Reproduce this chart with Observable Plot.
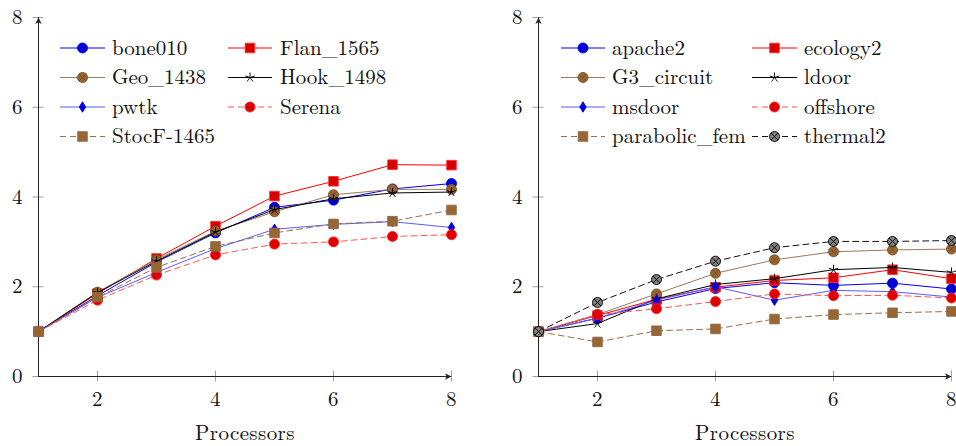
<!DOCTYPE html>
<html>
<head>
<meta charset="utf-8">
<script src="https://cdn.jsdelivr.net/npm/d3@7"></script>
<script src="https://cdn.jsdelivr.net/npm/@observablehq/plot@0.6"></script>
<style>
  html, body { margin: 0; padding: 0; background: #fff; }
  #wrap { position: relative; width: 956px; height: 446px; overflow: hidden; }
  .panel { position: absolute; top: 0; width: 478px; height: 446px; }
  .panel svg { overflow: visible; }
  .panel text { letter-spacing: 0.4px; }
  .panel svg.legend text { letter-spacing: 0px; }
  .legend { position: absolute; top: 0; left: 0; pointer-events: none; }
</style>
</head>
<body>
<div id="wrap">
  <div class="panel" id="left" style="left:0px"></div>
  <div class="panel" id="right" style="left:478px"></div>
</div>
<script>
// ---------- data ----------
const procs = [1, 2, 3, 4, 5, 6, 7, 8];
const xTicks = [2, 4, 6, 8];
const yTicks = [0, 2, 4, 6, 8];
const xDomain = [1, 8];
const yDomain = [0, 8];
const axisLabel = "Processors";

const leftNames = ["bone010", "Flan_1565", "Geo_1438", "Hook_1498", "pwtk", "Serena", "StocF-1465"];
const bone010   = [1, 1.80, 2.55, 3.20, 3.77, 3.93, 4.18, 4.30];
const flan1565  = [1, 1.85, 2.63, 3.35, 4.02, 4.35, 4.72, 4.71];
const geo1438   = [1, 1.88, 2.60, 3.24, 3.67, 4.05, 4.17, 4.17];
const hook1498  = [1, 1.87, 2.57, 3.22, 3.72, 3.96, 4.09, 4.11];
const pwtk      = [1, 1.76, 2.32, 2.85, 3.28, 3.39, 3.45, 3.32];
const serena    = [1, 1.70, 2.26, 2.71, 2.95, 3.00, 3.12, 3.16];
const stocf1465 = [1, 1.77, 2.43, 2.90, 3.20, 3.40, 3.46, 3.71];

const rightNames = ["apache2", "ecology2", "G3_circuit", "ldoor", "msdoor", "offshore", "parabolic_fem", "thermal2"];
const apache2    = [1, 1.30, 1.66, 1.96, 2.09, 2.03, 2.08, 1.95];
const ecology2   = [1, 1.36, 1.72, 1.99, 2.14, 2.20, 2.38, 2.18];
const g3circuit  = [1, 1.38, 1.84, 2.30, 2.60, 2.78, 2.82, 2.84];
const ldoor      = [1, 1.18, 1.73, 2.05, 2.18, 2.38, 2.43, 2.32];
const msdoor     = [1, 1.30, 1.70, 2.00, 1.70, 1.92, 1.89, 1.77];
const offshore   = [1, 1.38, 1.51, 1.67, 1.84, 1.80, 1.81, 1.75];
const parabolic  = [1, 0.77, 1.02, 1.06, 1.28, 1.38, 1.42, 1.45];
const thermal2   = [1, 1.65, 2.16, 2.57, 2.87, 3.01, 3.01, 3.03];

const leftSeries = [bone010, flan1565, geo1438, hook1498, pwtk, serena, stocf1465];
const rightSeries = [apache2, ecology2, g3circuit, ldoor, msdoor, offshore, parabolic, thermal2];

// ---------- symbols ----------
const rad = s => Math.sqrt(s / Math.PI);
const SYM = {
  circle: {draw(c, s) { const r = rad(s); c.moveTo(r, 0); c.arc(0, 0, r, 0, 2 * Math.PI); c.closePath(); }},
  square: {draw(c, s) { const r = rad(s) * 0.92; c.rect(-r, -r, 2 * r, 2 * r); }},
  otimes: {draw(c, s) {
    const r = rad(s), a = r * 0.707;
    c.moveTo(r, 0); c.arc(0, 0, r, 0, 2 * Math.PI); c.closePath();
    c.moveTo(-a, -a); c.lineTo(a, a); c.moveTo(-a, a); c.lineTo(a, -a);
  }},
  star: {draw(c, s) {
    const r = rad(s);
    for (let k = 0; k < 5; k++) {
      const t = (-90 + 72 * k) * Math.PI / 180;
      c.moveTo(0, 0); c.lineTo(r * Math.cos(t), r * Math.sin(t));
    }
  }},
  diamond: {draw(c, s) { const r = rad(s); c.moveTo(0, -r); c.lineTo(0.62 * r, 0); c.lineTo(0, r); c.lineTo(-0.62 * r, 0); c.closePath(); }},
  arrow: {draw(c) { c.moveTo(0, 0); c.lineTo(3.2, 6.5); c.lineTo(0, 4.8); c.lineTo(-3.2, 6.5); c.closePath(); }}
};

// pgfplots "color" cycle list
const DASH = "6,4";
const cycle = [
  {line: "#0000ff", fill: "#0000d4", mstroke: "#0000ff", sym: "circle", r: 5},
  {line: "#ff0000", fill: "#d40000", mstroke: "#ff3030", sym: "square", r: 5.2},
  {line: "#9a7a5a", fill: "#996633", mstroke: "#734d26", sym: "otimes", r: 5},
  {line: "#000000", fill: "none", mstroke: "#000000", sym: "star", r: 5},
  {line: "#5c5cff", fill: "#0000d4", mstroke: "#0000ff", sym: "diamond", r: 5.2},
  {line: "#ff5555", fill: "#dd0000", mstroke: "#ff2020", sym: "circle", r: 5, dash: DASH},
  {line: "#98704c", fill: "#996633", mstroke: "#8a6a4a", sym: "square", r: 5.2, dash: DASH},
  {line: "#111111", fill: "#808080", mstroke: "#000000", sym: "otimes", r: 5, dash: DASH}
];

const FONT = "'Latin Modern Roman', 'CMU Serif', 'Liberation Serif', serif";
const FS = 21;

function panel(series, marginLeft, marginRight) {
  const tkY = 0.12, tkX = 0.093;
  const marks = [
    Plot.ruleY(yTicks, {y: d => d, x1: () => xDomain[0] - tkX, x2: () => xDomain[0] + tkX, stroke: "#a0a0a0", strokeWidth: 1}),
    Plot.ruleX(xTicks, {x: d => d, y1: () => yDomain[0] - tkY, y2: () => yDomain[0] + tkY, stroke: "#a0a0a0", strokeWidth: 1}),
    Plot.ruleX([xDomain[0]], {x: d => d, y1: () => yDomain[0], y2: () => yDomain[1], stroke: "#222", strokeWidth: 1}),
    Plot.ruleY([yDomain[0]], {y: d => d, x1: () => xDomain[0], x2: () => xDomain[1], stroke: "#222", strokeWidth: 1}),
    Plot.dot([yDomain[1]], {x: () => xDomain[0], y: d => d, symbol: SYM.arrow, fill: "#222", stroke: "none", r: 3}),
    Plot.dot([xDomain[1]], {x: d => d, y: () => yDomain[0], symbol: SYM.arrow, rotate: 90, fill: "#222", stroke: "none", r: 3}),
    Plot.text(xTicks, {x: d => d, frameAnchor: "bottom", lineAnchor: "middle", dy: 23, text: d => String(d), fontSize: FS, fill: "#111"}),
    Plot.text(yTicks, {y: d => d, frameAnchor: "left", lineAnchor: "middle", dx: -21, textAnchor: "middle", text: d => String(d), fontSize: FS, fill: "#111"}),
    Plot.text([axisLabel], {frameAnchor: "bottom", lineAnchor: "middle", dy: 57, text: d => d, fontSize: FS, fill: "#111"})
  ];
  series.forEach((vals, i) => {
    const st = cycle[i];
    const rows = procs.map((p, j) => ({p, v: vals[j]}));
    marks.push(Plot.line(rows, {x: "p", y: "v", stroke: st.line, strokeWidth: 1, strokeDasharray: st.dash || null}));
    marks.push(Plot.dot(rows, {x: "p", y: "v", symbol: SYM[st.sym], r: st.r, fill: st.fill, stroke: st.mstroke, strokeWidth: 0.9}));
  });
  return Plot.plot({
    width: 478, height: 446,
    marginTop: 17, marginBottom: 70, marginLeft, marginRight,
    x: {domain: xDomain, axis: null},
    y: {domain: yDomain, axis: null},
    style: {background: "transparent", fontFamily: FONT, fontSize: FS + "px", color: "#111", overflow: "visible"},
    marks
  });
}

function legend(container, names, cols, rows) {
  const svg = d3.select(container).append("svg")
    .attr("class", "legend").attr("width", 478).attr("height", 446);
  names.forEach((name, i) => {
    const st = cycle[i];
    const col = cols[i % 2], y = rows[Math.floor(i / 2)];
    const g = svg.append("g");
    g.append("line").attr("x1", col[0]).attr("x2", col[1]).attr("y1", y).attr("y2", y)
      .attr("stroke", st.line).attr("stroke-width", 1).attr("stroke-dasharray", st.dash || null);
    g.append("path").attr("transform", `translate(${(col[0] + col[1]) / 2},${y})`)
      .attr("d", d3.symbol(SYM[st.sym], st.r * st.r * Math.PI)())
      .attr("fill", st.fill).attr("stroke", st.mstroke).attr("stroke-width", 0.9);
    g.append("text").attr("x", col[2]).attr("y", y).attr("dy", "0.32em")
      .attr("font-family", FONT).attr("font-size", FS).attr("fill", "#111").text(name);
  });
}

const L = document.getElementById("left");
const R = document.getElementById("right");
L.append(panel(leftSeries, 38, 27));
R.append(panel(rightSeries, 60, 5));
const rowsY = [48, 77.5, 107, 136.5];
legend(L, leftNames, [[60, 105, 112], [228, 272, 280]], rowsY);
legend(R, rightNames, [[83, 127, 134], [274, 319, 326]], rowsY);
</script>
</body>
</html>
